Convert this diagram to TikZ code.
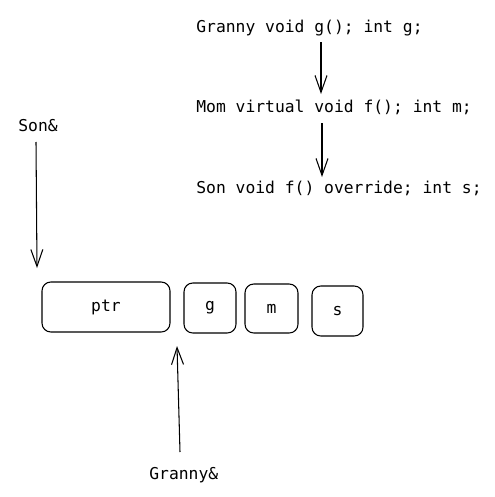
\documentclass[tikz,border=0pt]{standalone}
\usepackage{fontspec}
\setmonofont{DejaVu Sans Mono}
\usetikzlibrary{arrows.meta}

\tikzset{
    code/.style = {font = {\ttfamily\fontsize{9.3}{11}\selectfont}, black, inner sep = 0pt, anchor = west},
    cell/.style = {draw, rounded corners = 5pt, line width = 0.6pt, font = {\ttfamily\fontsize{9.3}{11}\selectfont}, inner sep = 0pt},
    link/.style = {-{Straight Barb[length = 3.4mm, width = 2.4mm]}, line width = 0.6pt}
}

\begin{document}
\begin{tikzpicture}[x = 0.02cm, y = -0.02cm]
            \useasboundingbox (0, 0) rectangle (494, 497);

            \node[code] (granny) at (196, 28) {Granny void g(); int g;};
            \node[code] (mom) at (196, 107) {Mom virtual void f(); int m;};
            \node[code] (son) at (196, 188) {Son void f() override; int s;};

            \node[code] (sonref) at (18, 126) {Son\&};
            \node[code] (grannyref) at (149, 475) {Granny\&};

            \node[cell, minimum width = 2.56cm, minimum height = 1.0cm] (ptr) at (106, 307) {ptr};
            \node[cell, minimum width = 1.04cm, minimum height = 1.0cm] (g) at (210, 308) {g};
            \node[cell, minimum width = 1.06cm, minimum height = 0.98cm] (m) at (271.5, 308.5) {m};
            \node[cell, minimum width = 1.02cm, minimum height = 1.0cm] (s) at (337.5, 311) {s};

            \coordinate (a1) at (321, 42);
            \coordinate (b1) at (321, 94);
            \coordinate (a2) at (322, 123);
            \coordinate (b2) at (322, 177);
            \coordinate (a3) at (36, 142);
            \coordinate (b3) at (37, 268);
            \coordinate (a4) at (180, 452);
            \coordinate (b4) at (177, 346);

            \draw[link] (a1) -- (b1);
            \draw[link] (a2) -- (b2);
            \draw[link] (a3) -- (b3);
            \draw[link] (a4) -- (b4);
        \end{tikzpicture}
\end{document}
